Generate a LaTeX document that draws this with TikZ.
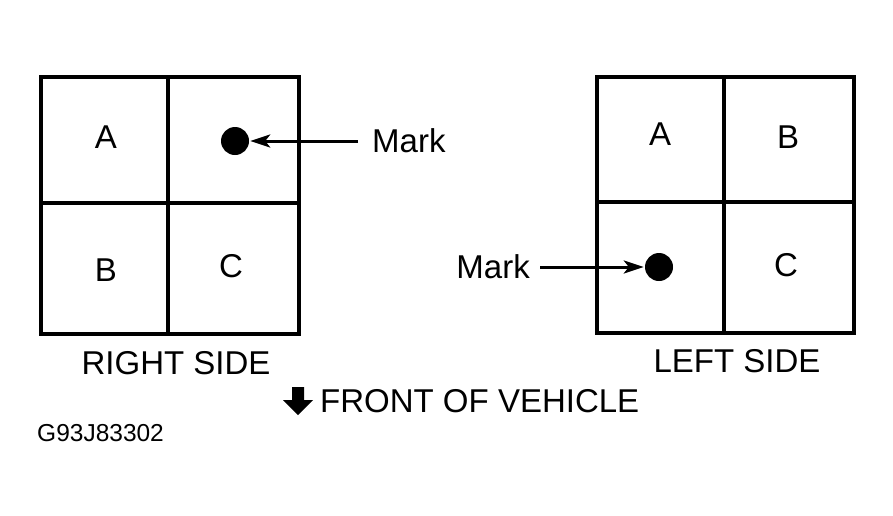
\documentclass[tikz,border=0pt]{standalone}
\usepackage{fontspec}
\setmainfont{Liberation Sans}
\usetikzlibrary{arrows.meta}
\begin{document}
\begin{tikzpicture}[x=1pt,y=-1pt,
  lbl/.style={inner sep=0pt,font=\fontsize{33}{33}\selectfont},
  small/.style={inner sep=0pt,font=\fontsize{24.5}{24.5}\selectfont},
  boxline/.style={line width=3.8pt},
  markdot/.style={circle,fill=black,inner sep=0pt,minimum size=28pt},
  pointer/.style={line width=3pt,-{Stealth[length=20pt,width=13pt,inset=5pt]}}]
\useasboundingbox (0,0) rectangle (893,515);
% right side grid
\draw[boxline] (41,77) rectangle (299,334);
\draw[boxline] (168,77) -- (168,334);
\draw[boxline] (41,203) -- (299,203);
% left side grid
\draw[boxline] (597,77) rectangle (854,333);
\draw[boxline] (724,77) -- (724,333);
\draw[boxline] (597,202) -- (854,202);
% cell letters
\node[lbl] (ra) at (106,137) {A};
\node[lbl] (rb) at (106,270) {B};
\node[lbl] (rc) at (231,266) {C};
\node[lbl] (la) at (660,134) {A};
\node[lbl] (lb) at (788,137) {B};
\node[lbl] (lc) at (786,265) {C};
% marks
\node[markdot] (d1) at (235,141) {};
\node[markdot] (d2) at (659,267) {};
\node[lbl,anchor=west] (m1) at (372,141) {Mark};
\node[lbl,anchor=east] (m2) at (530,267) {Mark};
\draw[pointer,shorten <=14pt,shorten >=1pt] (m1.west) -- (d1.east);
\draw[pointer,shorten <=10pt,shorten >=1pt] (m2.east) -- (d2.west);
% captions
\node[lbl] (rs) at (176,363) {RIGHT SIDE};
\node[lbl] (ls) at (737,361) {LEFT SIDE};
\node[lbl,anchor=west] (fv) at (320,401) {FRONT OF VEHICLE};
\fill (292,387) -- (304,387) -- (304,400) -- (313,400) -- (298,415) -- (283,400) -- (292,400) -- cycle;
\node[small,anchor=west] (id) at (37,433) {G93J83302};
\end{tikzpicture}
\end{document}
